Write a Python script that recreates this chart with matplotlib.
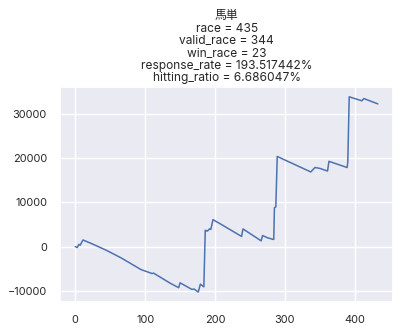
import matplotlib
matplotlib.use("Agg")
import matplotlib.pyplot as plt
import seaborn as sns

sns.set_theme(style="darkgrid")
plt.rcParams['font.family'] = ['Inter', 'Noto Sans CJK JP', 'DejaVu Sans']

race_idx = [0, 3, 5, 7, 9, 11, 23, 44, 65, 94, 110, 112, 136, 148, 150, 167, 170, 176, 179, 184,
            186, 189, 192, 194, 197, 207, 238, 240, 266, 268, 275, 284, 285, 287, 289,
            337, 343, 350, 361, 363, 389, 390, 392, 410, 413, 433]
profit = [0, -200, 500, 300, 900, 1500, 700, -800, -2500, -5200, -6100, -6000, -8300, -9300, -8200, -9700,
          -9600, -10300, -8500, -9100,
          3700, 3500, 4000, 3900, 6100, 5200, 2300, 4000, 1300, 2500, 2000, 1600, 8800, 9000, 20400,
          16900, 17900, 17700, 17100, 19300, 17900, 19200, 33900, 33000, 33500, 32300]

title_lines = ["馬単", "race = 435", "valid_race = 344", "win_race = 23",
               "response_rate = 193.517442%", "hitting_ratio = 6.686047%"]

fig = plt.figure(figsize=(4.01, 3.31), dpi=100)
ax = fig.add_axes([0.150, 0.088, 0.830, 0.649])
ax.plot(race_idx, profit, color="#4c72b0", linewidth=1.1)
ax.set_title("\n".join(title_lines), fontsize=8.6, linespacing=1.05, pad=4)
ax.tick_params(labelsize=7.9)
fig.savefig("out.png", dpi=100)
